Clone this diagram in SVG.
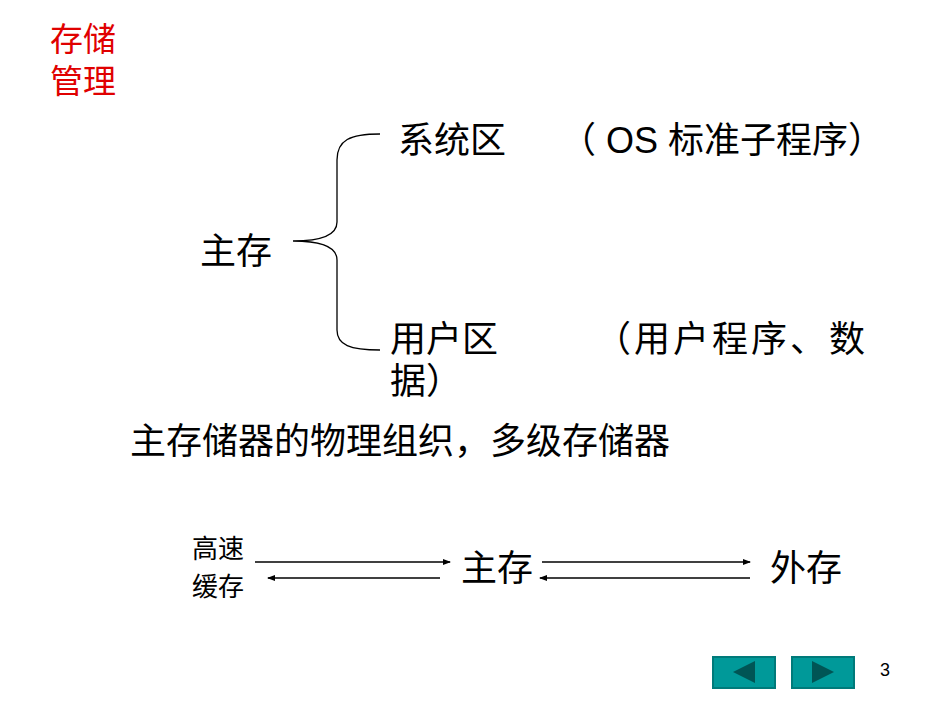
<svg xmlns="http://www.w3.org/2000/svg" width="950" height="713" viewBox="0 0 950 713">
<style>
text{font-family:"Liberation Sans","Noto Sans CJK SC",sans-serif;fill:#000}
.t{font-size:36px}
.s{font-size:26px}
.ln{stroke:#000;stroke-width:1.3;fill:none}
.btn{fill:#009999;stroke:#007a7a;stroke-width:2}
.tri{fill:#005555}
</style>
<defs>
<marker id="ah" markerWidth="8" markerHeight="6" refX="7" refY="3" orient="auto" markerUnits="userSpaceOnUse">
<path d="M0,0 L8,3 L0,6 z" fill="#000"/>
</marker>
</defs>
<rect width="950" height="713" fill="#fff"/>
<g id="title"><text x="50" y="51" style="fill:#e00000;font-size:33px">存储</text><text x="50" y="93" style="fill:#e00000;font-size:33px">管理</text></g>
<g id="main"><text x="200" y="264" class="t">主存</text></g>
<g id="sys"><text x="398" y="153" class="t">系统区</text><text x="560" y="153" class="t">（ OS 标准子程序）</text></g>
<g id="user"><text x="390" y="352" class="t">用户区</text><text x="595" y="352" class="t" letter-spacing="3">（用户程序、数</text><text x="390" y="394" class="t">据）</text></g>
<g id="org"><text x="130" y="454" class="t">主存储器的物理组织，多级存储器</text></g>
<g id="cache"><text x="192" y="558" class="s">高速</text><text x="192" y="596" class="s">缓存</text></g>
<g id="mm"><text x="461" y="581" class="t">主存</text></g>
<g id="ext"><text x="770" y="581" class="t">外存</text></g>
<g id="connectors">
<path class="ln" d="M380,134 C350,134 337,140 337,160 L337,222 C337,236 320,241 293,241 C320,241 337,246 337,260 L337,330 C337,345 350,350 380,350"/>
<line class="ln" x1="255" y1="562" x2="450" y2="562" marker-end="url(#ah)"/>
<line class="ln" x1="440" y1="578" x2="268" y2="578" marker-end="url(#ah)"/>
<line class="ln" x1="542" y1="562" x2="750" y2="562" marker-end="url(#ah)"/>
<line class="ln" x1="750" y1="578" x2="540" y2="578" marker-end="url(#ah)"/>
</g>
<g id="nav">
<rect class="btn" x="713" y="657" width="62" height="31"/>
<path class="tri" d="M733,672 L755,661 L755,683 z"/>
<rect class="btn" x="792" y="657" width="62" height="31"/>
<path class="tri" d="M834,672 L812,661 L812,683 z"/>
</g>
<g id="page"><text x="880" y="676" style="font-size:18px">3</text></g>
</svg>
